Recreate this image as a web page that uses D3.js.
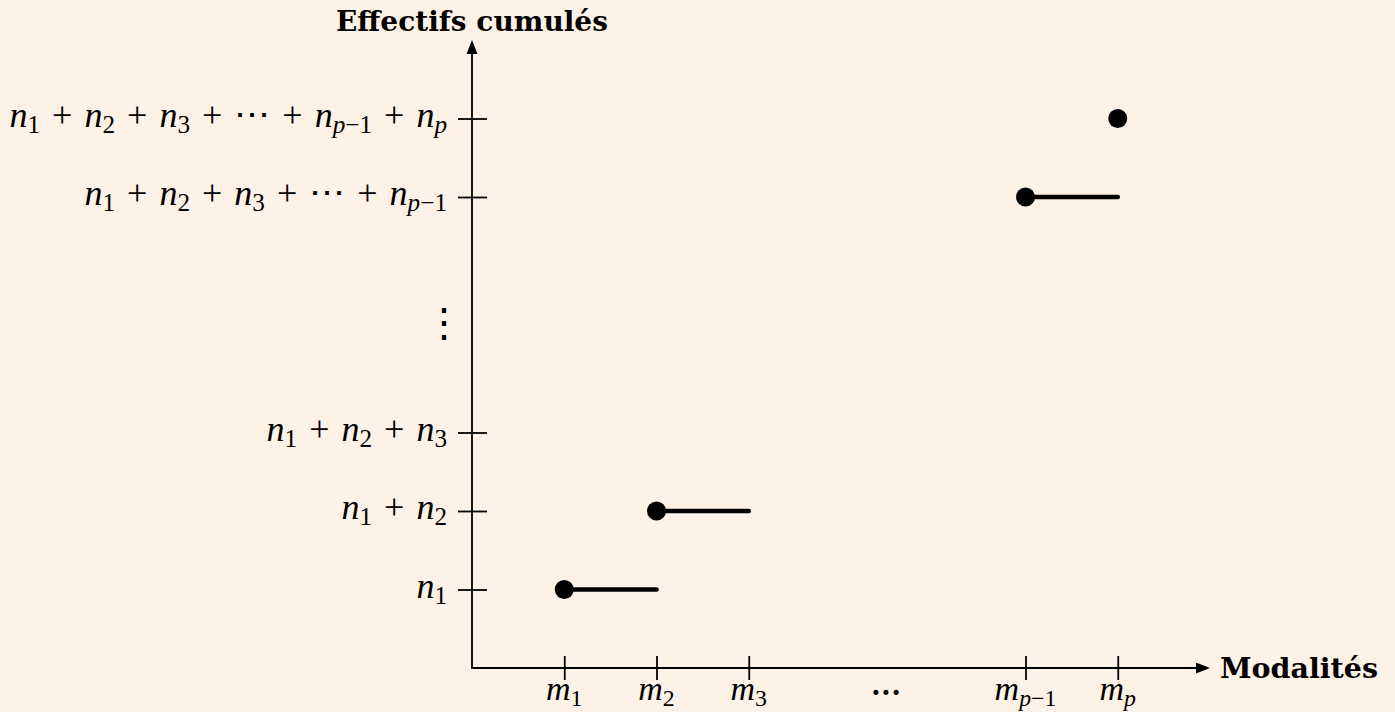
<!DOCTYPE html>
<html>
<head>
<meta charset="utf-8">
<script src="https://cdn.jsdelivr.net/npm/d3@7"></script>
<style>
  body { margin: 0; background: #fef1e6; }
  svg { display: block; }
  text { white-space: pre; }
</style>
</head>
<body>
<div id="chart"></div>
<script>
// modalités : position on the x axis and label
var xPositions = [1, 2, 3, 6, 7];
var xLabels = ["m_1", "m_2", "m_3", "m_{p-1}", "m_p"];

// cumulative counts : position on the y axis and label
var yPositions = [1, 2, 3, 6, 7];
var yLabels = ["n_1", "n_1 + n_2", "n_1 + n_2 + n_3",
               "n_1 + n_2 + n_3 + ⋯ + n_{p-1}",
               "n_1 + n_2 + n_3 + ⋯ + n_{p-1} + n_p"];

// steps of the cumulative function (start, end, level)
var stepStart = [1, 2, 6];
var stepEnd   = [2, 3, 7];
var stepLevel = [1, 2, 6];

// last point, on its own
var lastPoint = [7, 7];

var xTitle = "Modalités";
var yTitle = "Effectifs cumulés";
var xGap = 4.5;   // "..." between m3 and m(p-1)
var yGap = 4.4;   // vertical dots between the labels

var width = 1395, height = 712;
var mathFont = "'Liberation Serif', 'DejaVu Serif', serif";
var boldFont = "'DejaVu Serif', serif";

var svg = d3.select("#chart").append("svg")
  .attr("width", width)
  .attr("height", height);

var x = d3.scaleLinear().domain([0, 8]).range([472, 1210]);
var y = d3.scaleLinear().domain([0, 8]).range([668, 40]);

// write a little latex-like string ("n_{p-1}") as tspans
function addMath(sel, str) {
  var parts = [];
  var i = 0;
  while (i < str.length) {
    var c = str[i];
    if (c == "_") {
      var s;
      if (str[i + 1] == "{") {
        var j = str.indexOf("}", i);
        s = str.slice(i + 2, j);
        i = j + 1;
      } else {
        s = str[i + 1];
        i += 2;
      }
      parts.push({t: s, sub: true});
    } else {
      parts.push({t: c, sub: false});
      i++;
    }
  }
  var shift = 0;
  parts.forEach(function(p) {
    // wider spaces around the binary operators, like latex
    var chars = p.t.replace(/-/g, "\u2212").replace(/ /g, "\u2004").split("");
    chars.forEach(function(ch, k) {
      var ts = sel.append("tspan").text(ch);
      if (/[a-z]/.test(ch)) ts.attr("font-style", "italic");
      if (p.sub) ts.attr("font-size", "70%");
      var want = p.sub ? 6 : 0;
      if (want != shift) {
        ts.attr("dy", want - shift);
        shift = want;
      }
    });
  });
}

// arrow head
svg.append("defs").append("marker")
  .attr("id", "arrow")
  .attr("markerUnits", "userSpaceOnUse")
  .attr("markerWidth", 16).attr("markerHeight", 14)
  .attr("refX", 7).attr("refY", 5.5)
  .attr("orient", "auto")
  .append("path")
  .attr("d", "M0,0 L14,5.5 L0,11 Z")
  .attr("fill", "#000");

// axes lines
svg.append("line")
  .attr("x1", x(0)).attr("y1", y(0))
  .attr("x2", x(8) - 7).attr("y2", y(0))
  .attr("stroke", "#000").attr("stroke-width", 1.8)
  .attr("marker-end", "url(#arrow)");
svg.append("line")
  .attr("x1", x(0)).attr("y1", y(0) + 0.9)
  .attr("x2", x(0)).attr("y2", y(8) + 7)
  .attr("stroke", "#000").attr("stroke-width", 1.8)
  .attr("marker-end", "url(#arrow)");

// ticks crossing the axes
var gx = svg.append("g")
  .attr("transform", "translate(0," + y(0) + ")")
  .call(d3.axisBottom(x).tickValues(xPositions).tickSize(12).tickFormat(""));
gx.select(".domain").remove();
gx.selectAll(".tick line").attr("y1", -12).attr("stroke", "#000").attr("stroke-width", 1.8);

var gy = svg.append("g")
  .attr("transform", "translate(" + x(0) + ",0)")
  .call(d3.axisLeft(y).tickValues(yPositions).tickSize(14).tickFormat(""));
gy.select(".domain").remove();
gy.selectAll(".tick line").attr("x1", 15).attr("stroke", "#000").attr("stroke-width", 1.8);

// tick labels
xPositions.forEach(function(v, i) {
  var t = svg.append("text")
    .attr("x", x(v)).attr("y", 700)
    .attr("text-anchor", "middle")
    .attr("font-family", mathFont).attr("font-size", 34);
  addMath(t, xLabels[i]);
});
yPositions.forEach(function(v, i) {
  var t = svg.append("text")
    .attr("x", x(0) - 25).attr("y", y(v) + 8)
    .attr("text-anchor", "end")
    .attr("font-family", mathFont).attr("font-size", 36);
  addMath(t, yLabels[i]);
});

// gaps
svg.append("text")
  .attr("x", x(xGap)).attr("y", 695)
  .attr("text-anchor", "middle")
  .attr("font-family", mathFont).attr("font-size", 31)
  .attr("font-weight", "bold").attr("letter-spacing", 2.3)
  .text("...");
svg.append("text")
  .attr("x", x(0) - 28).attr("y", y(yGap))
  .attr("text-anchor", "middle").attr("dominant-baseline", "central")
  .attr("font-family", mathFont).attr("font-size", 40)
  .text("⋮");

// axis titles
svg.append("text")
  .attr("x", x(0)).attr("y", 31)
  .attr("text-anchor", "middle")
  .attr("font-family", boldFont).attr("font-weight", "bold").attr("font-size", 28)
  .text(yTitle);
svg.append("text")
  .attr("x", x(8) + 10).attr("y", y(0) + 10)
  .attr("font-family", boldFont).attr("font-weight", "bold").attr("font-size", 28.5)
  .text(xTitle);

// steps
for (var i = 0; i < stepStart.length; i++) {
  svg.append("line")
    .attr("x1", x(stepStart[i])).attr("y1", y(stepLevel[i]))
    .attr("x2", x(stepEnd[i])).attr("y2", y(stepLevel[i]))
    .attr("stroke", "#000").attr("stroke-width", 4.6)
    .attr("stroke-linecap", "round");
  svg.append("circle")
    .attr("cx", x(stepStart[i])).attr("cy", y(stepLevel[i]))
    .attr("r", 9.5).attr("fill", "#000");
}
svg.append("circle")
  .attr("cx", x(lastPoint[0])).attr("cy", y(lastPoint[1]))
  .attr("r", 9.5).attr("fill", "#000");
</script>
</body>
</html>
